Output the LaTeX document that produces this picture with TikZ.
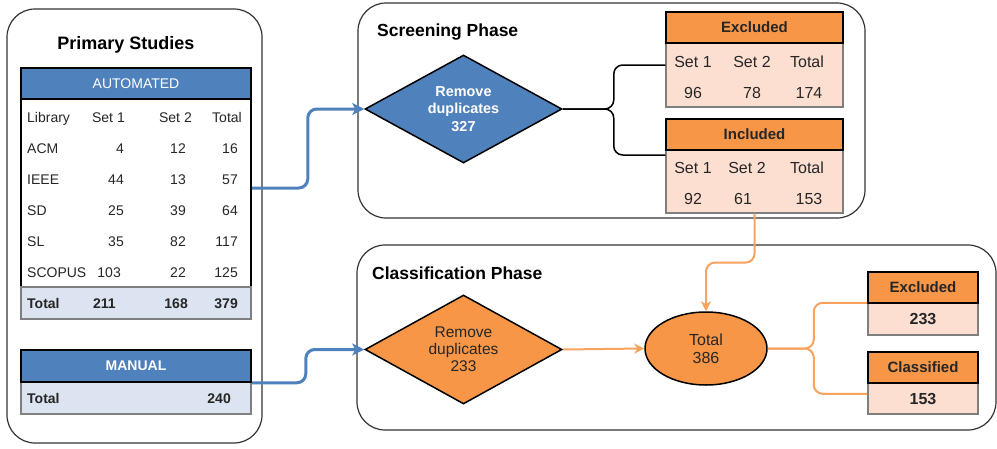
\documentclass[tikz,border=0pt]{standalone}
\usepackage{fontspec}
\setmainfont{Liberation Sans}
\usetikzlibrary{shapes.geometric,arrows.meta,calc}
\definecolor{blueC}{HTML}{4F81BD}
\definecolor{lblue}{HTML}{DCE3F1}
\definecolor{orangeC}{HTML}{F79646}
\definecolor{peach}{HTML}{FDDFD2}
\definecolor{lineO}{HTML}{F8A35E}
\definecolor{txt}{HTML}{262626}
\definecolor{frameC}{HTML}{333333}
\definecolor{grayB}{HTML}{7F7F7F}
\newcommand\fsz[2]{\fontsize{#1}{#2}\selectfont}
\begin{document}
\begin{tikzpicture}[x=1pt,y=-1pt,
  container/.style={draw=frameC, line width=1.2pt, rounded corners=28pt, inner sep=0pt, fill=white},
  bluehead/.style={draw=black, line width=1.6pt, fill=blueC, inner sep=0pt, text=white},
  orangehead/.style={draw=black, line width=1.6pt, fill=orangeC, inner sep=0pt, text=txt, font=\bfseries\fsz{15}{17}},
  peachbody/.style={draw=grayB, line width=1.2pt, fill=peach, inner sep=0pt},
  totrow/.style={draw=grayB, line width=1.2pt, fill=lblue, inner sep=0pt},
  cellL/.style={anchor=west, inner sep=0pt, text=txt, font=\fsz{14}{16}, text height=10pt, text depth=0pt},
  cellR/.style={anchor=east, inner sep=0pt, text=txt, font=\fsz{14}{16}, text height=10pt, text depth=0pt},
  cellC/.style={anchor=center, inner sep=0pt, text=txt, font=\fsz{16}{18}, text height=11.5pt, text depth=0pt},
  blueconn/.style={draw=blueC, line width=3pt, rounded corners=9pt, -{Stealth[length=12pt,width=12pt,inset=3pt]}},
  orangeconn/.style={draw=lineO, line width=2pt, rounded corners=9pt},
  orangearrow/.style={orangeconn, -{Stealth[length=10pt,width=10pt,inset=3pt]}},
  blackconn/.style={draw=black, line width=1.5pt, rounded corners=9pt}
]
\useasboundingbox (0,0) rectangle (997,448);

% containers
\node[container, minimum width=255pt, minimum height=434pt] (prim) at (134.5,226) {};
\node[container, minimum width=507pt, minimum height=215pt] (screen) at (611.5,110.5) {};
\node[container, minimum width=639pt, minimum height=185pt] (classif) at (676.5,337.5) {};

% titles
\node[font=\bfseries\fsz{18}{20}, text=black, inner sep=0pt] (ptitle) at (126,45) {Primary Studies};
\node[font=\bfseries\fsz{17.5}{20}, text=black, inner sep=0pt, anchor=west] (stitle) at (377,32) {Screening Phase};
\node[font=\bfseries\fsz{17.5}{20}, text=black, inner sep=0pt, anchor=west] (ctitle) at (372,273) {Classification Phase};

% AUTOMATED table
\node[draw=black, line width=1.5pt, fill=white, inner sep=0pt, minimum width=230pt, minimum height=188pt] (autobody) at (136,193) {};
\node[totrow, minimum width=230pt, minimum height=32pt] (autotot) at (136,303) {};
\node[bluehead, minimum width=230pt, minimum height=31pt, font=\fsz{14}{16}] (autohead) at (136,83.5) {AUTOMATED};

\node[cellL] (hlib) at (27,117) {Library};
\node[cellR] (hs1) at (125,117) {Set 1};
\node[cellR] (hs2) at (192,117) {Set 2};
\node[cellR] (htot) at (242,117) {Total};
\foreach \r/\yy/\lib/\a/\b/\c in {1/148/ACM/4/12/16, 2/179/IEEE/44/13/57, 3/210/SD/25/39/64, 4/241/SL/35/82/117}{
  \node[cellL] (lib\r) at (27,\yy) {\lib};
  \node[cellR] (sa\r) at (124,\yy) {\a};
  \node[cellR] (sb\r) at (186,\yy) {\b};
  \node[cellR] (st\r) at (238,\yy) {\c};
}
\node[cellL] (lib5) at (27,272) {SCOPUS};
\node[cellR] (sa5) at (121,272) {103};
\node[cellR] (sb5) at (186,272) {22};
\node[cellR] (st5) at (238,272) {125};
\node[cellL, font=\bfseries\fsz{14}{16}] (tlib) at (27,303) {Total};
\node[cellL, font=\bfseries\fsz{14}{16}] (tsa) at (93,303) {211};
\node[cellR, font=\bfseries\fsz{14}{16}] (tsb) at (188,303) {168};
\node[cellR, font=\bfseries\fsz{14}{16}] (tst) at (238,303) {379};

% MANUAL table
\node[totrow, minimum width=230pt, minimum height=32pt] (mantot) at (136,398) {};
\node[bluehead, minimum width=230pt, minimum height=32pt, font=\bfseries\fsz{14}{16}] (manhead) at (136,366) {MANUAL};
\node[cellL, font=\bfseries\fsz{14}{16}] (mlib) at (27,398) {Total};
\node[cellR, font=\bfseries\fsz{14}{16}] (mval) at (231,398) {240};

% Screening phase
\node[diamond, aspect=2, draw=black, line width=1.5pt, fill=blueC, minimum width=197pt, minimum height=108pt, inner sep=0pt, align=center, text=white, font=\bfseries\fsz{14.4}{17.5}] (sdiam) at (463.5,109) {Remove\\duplicates\\327};

\node[peachbody, minimum width=177pt, minimum height=64pt] (exbody) at (754.5,75) {};
\node[orangehead, minimum width=177pt, minimum height=31pt] (exhead) at (754.5,27.5) {Excluded};
\node[cellC] (ex1) at (693,62) {Set 1};
\node[cellC] (ex2) at (752,62) {Set 2};
\node[cellC] (ex3) at (807,62) {Total};
\node[cellC] (exv1) at (693,93) {96};
\node[cellC] (exv2) at (752,93) {78};
\node[cellC] (exv3) at (809,93) {174};

\node[peachbody, minimum width=177pt, minimum height=63pt] (inbody) at (754.5,181.5) {};
\node[orangehead, minimum width=177pt, minimum height=31pt] (inhead) at (754.5,134.5) {Included};
\node[cellC] (in1) at (693,168) {Set 1};
\node[cellC] (in2) at (747,168) {Set 2};
\node[cellC] (in3) at (807,168) {Total};
\node[cellC] (inv1) at (693,199) {92};
\node[cellC] (inv2) at (743,199) {61};
\node[cellC] (inv3) at (809,199) {153};

% Classification phase
\node[diamond, aspect=2, draw=black, line width=1.5pt, fill=orangeC, minimum width=197pt, minimum height=109pt, inner sep=0pt, align=center, text=txt, font=\fsz{15.5}{16.8}] (cdiam) at (463.5,349.5) {Remove\\duplicates\\233};
\node[ellipse, draw=black, line width=1.5pt, fill=orangeC, minimum width=122pt, minimum height=73pt, inner sep=0pt, align=center, text=txt, font=\fsz{16}{18}] (tot) at (706,348.5) {Total\\386};

\node[peachbody, minimum width=110pt, minimum height=32pt, text=txt, font=\bfseries\fsz{16}{18}] (cexbody) at (923,319) {233};
\node[orangehead, minimum width=110pt, minimum height=31pt] (cexhead) at (923,287.5) {Excluded};
\node[peachbody, minimum width=110pt, minimum height=31pt, text=txt, font=\bfseries\fsz{16}{18}] (clbody) at (923,398.5) {153};
\node[orangehead, minimum width=110pt, minimum height=31pt] (clhead) at (923,367.5) {Classified};

% connectors
\draw[blueconn] ([yshift=5pt]autobody.east) -- ++(56,0) |- (sdiam.west);
\draw[blueconn] (manhead.south east) -- ++(54,0) |- (cdiam.west);

\coordinate (j1) at ([xshift=51pt]sdiam.east);
\draw[blackconn] (sdiam.east) -- (j1) |- ([yshift=10pt]exbody.west);
\draw[blackconn] (sdiam.east) -- (j1) |- ([yshift=26.5pt]inbody.west);

\draw[orangearrow] (inbody.south) -- ++(0,49) -| (tot.north);
\draw[orangearrow] (cdiam.east) -- (tot.west);

\coordinate (j2) at ([xshift=46pt]tot.east);
\draw[orangeconn] (tot.east) -- (j2) |- ([yshift=1pt]cexhead.south west);
\draw[orangeconn] (tot.east) -- (j2) |- ([yshift=-10pt]clhead.south west);
\end{tikzpicture}
\end{document}
